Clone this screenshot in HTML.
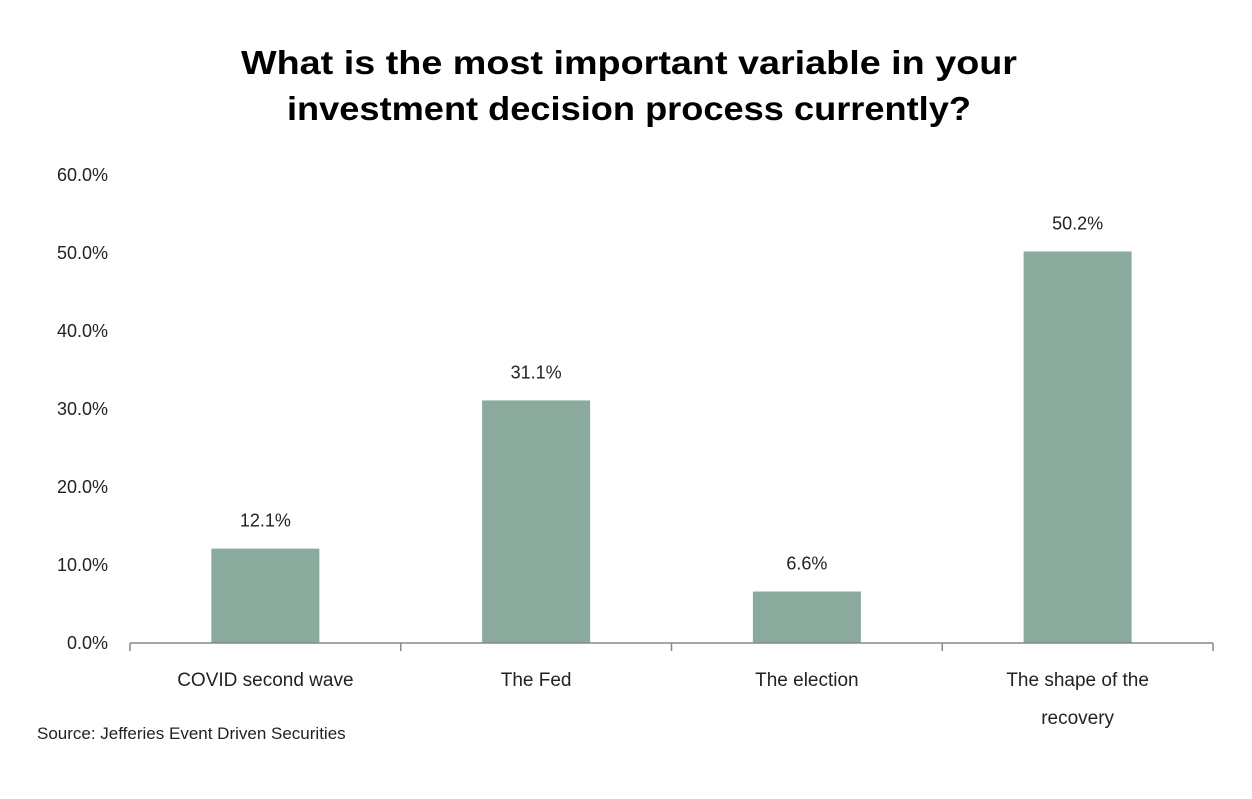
<!DOCTYPE html>
<html><head><meta charset="utf-8"><style>
html,body{margin:0;padding:0;background:#fff;}
svg{display:block;font-family:"Liberation Sans",sans-serif;}
</style></head><body>
<svg id="chart" width="1252" height="799" viewBox="0 0 1252 799">
<rect width="1252" height="799" fill="#fff"/>
<g font-weight="bold" font-size="33" fill="#000" text-anchor="middle">
<text x="629" y="74" textLength="776" lengthAdjust="spacingAndGlyphs">What is the most important variable in your</text>
<text x="629" y="120" textLength="684" lengthAdjust="spacingAndGlyphs">investment decision process currently?</text>
</g>
<g id="yaxis"></g>
<g id="bars"></g>
<g id="xaxis"></g>
<text x="37" y="739" font-size="17" fill="#222">Source:  Jefferies Event Driven Securities</text>
</svg>
<script>
const categories = ["COVID second wave", "The Fed", "The election", "The shape of the recovery"];
const values = [12.1, 31.1, 6.6, 50.2];
const yTicks = [0, 10, 20, 30, 40, 50, 60];
const NS = "http://www.w3.org/2000/svg";
const x0 = 130, x1 = 1213, y0 = 643, yTop = 175, yMax = 60;
const band = (x1 - x0) / categories.length;
const barW = 108;
function yScale(v){ return y0 - (v / yMax) * (y0 - yTop); }
function xCenter(i){ return x0 + band * (i + 0.5); }
function mk(tag, attrs, parent){ const e = document.createElementNS(NS, tag); for (const k in attrs) e.setAttribute(k, attrs[k]); parent.appendChild(e); return e; }
const yaxis = document.getElementById("yaxis");
yTicks.forEach(t => {
  const el = mk("text", {x: 108, y: yScale(t) + 6, "text-anchor": "end", "font-size": "18", fill: "#222"}, yaxis);
  
  
  el.textContent = t.toFixed(1) + "%";
});
const bars = document.getElementById("bars");
values.forEach((v, i) => {
  const cx = xCenter(i);
  const r = mk("rect", {x: cx - barW/2, y: yScale(v), width: barW, height: y0 - yScale(v), fill: "#89aa9d"}, bars);
  
  
  const lbl = mk("text", {x: cx, y: yScale(v) - 22, "text-anchor": "middle", "font-size": "18", fill: "#222"}, bars);
  
  
  lbl.textContent = v.toFixed(1) + "%";
});
const xaxis = document.getElementById("xaxis");
const ax = mk("line", {x1: x0, x2: x1, y1: y0, y2: y0, stroke: "#888", "stroke-width": 1.5}, xaxis);


for (let i = 0; i <= categories.length; i++) {
  const tk = mk("line", {x1: x0 + band*i, x2: x0 + band*i, y1: y0, y2: y0 + 8, stroke: "#888", "stroke-width": 1.5}, xaxis);
  
  
}
categories.forEach((c, i) => {
  const cx = xCenter(i);
  const lines = c === "The shape of the recovery" ? ["The shape of the", "recovery"] : [c];
  lines.forEach((ln, j) => {
    const t = mk("text", {x: cx, y: 686 + j*38, "text-anchor": "middle", "font-size": "19", fill: "#222"}, xaxis);
    
    
    t.textContent = ln;
  });
});
</script>
</body></html>
